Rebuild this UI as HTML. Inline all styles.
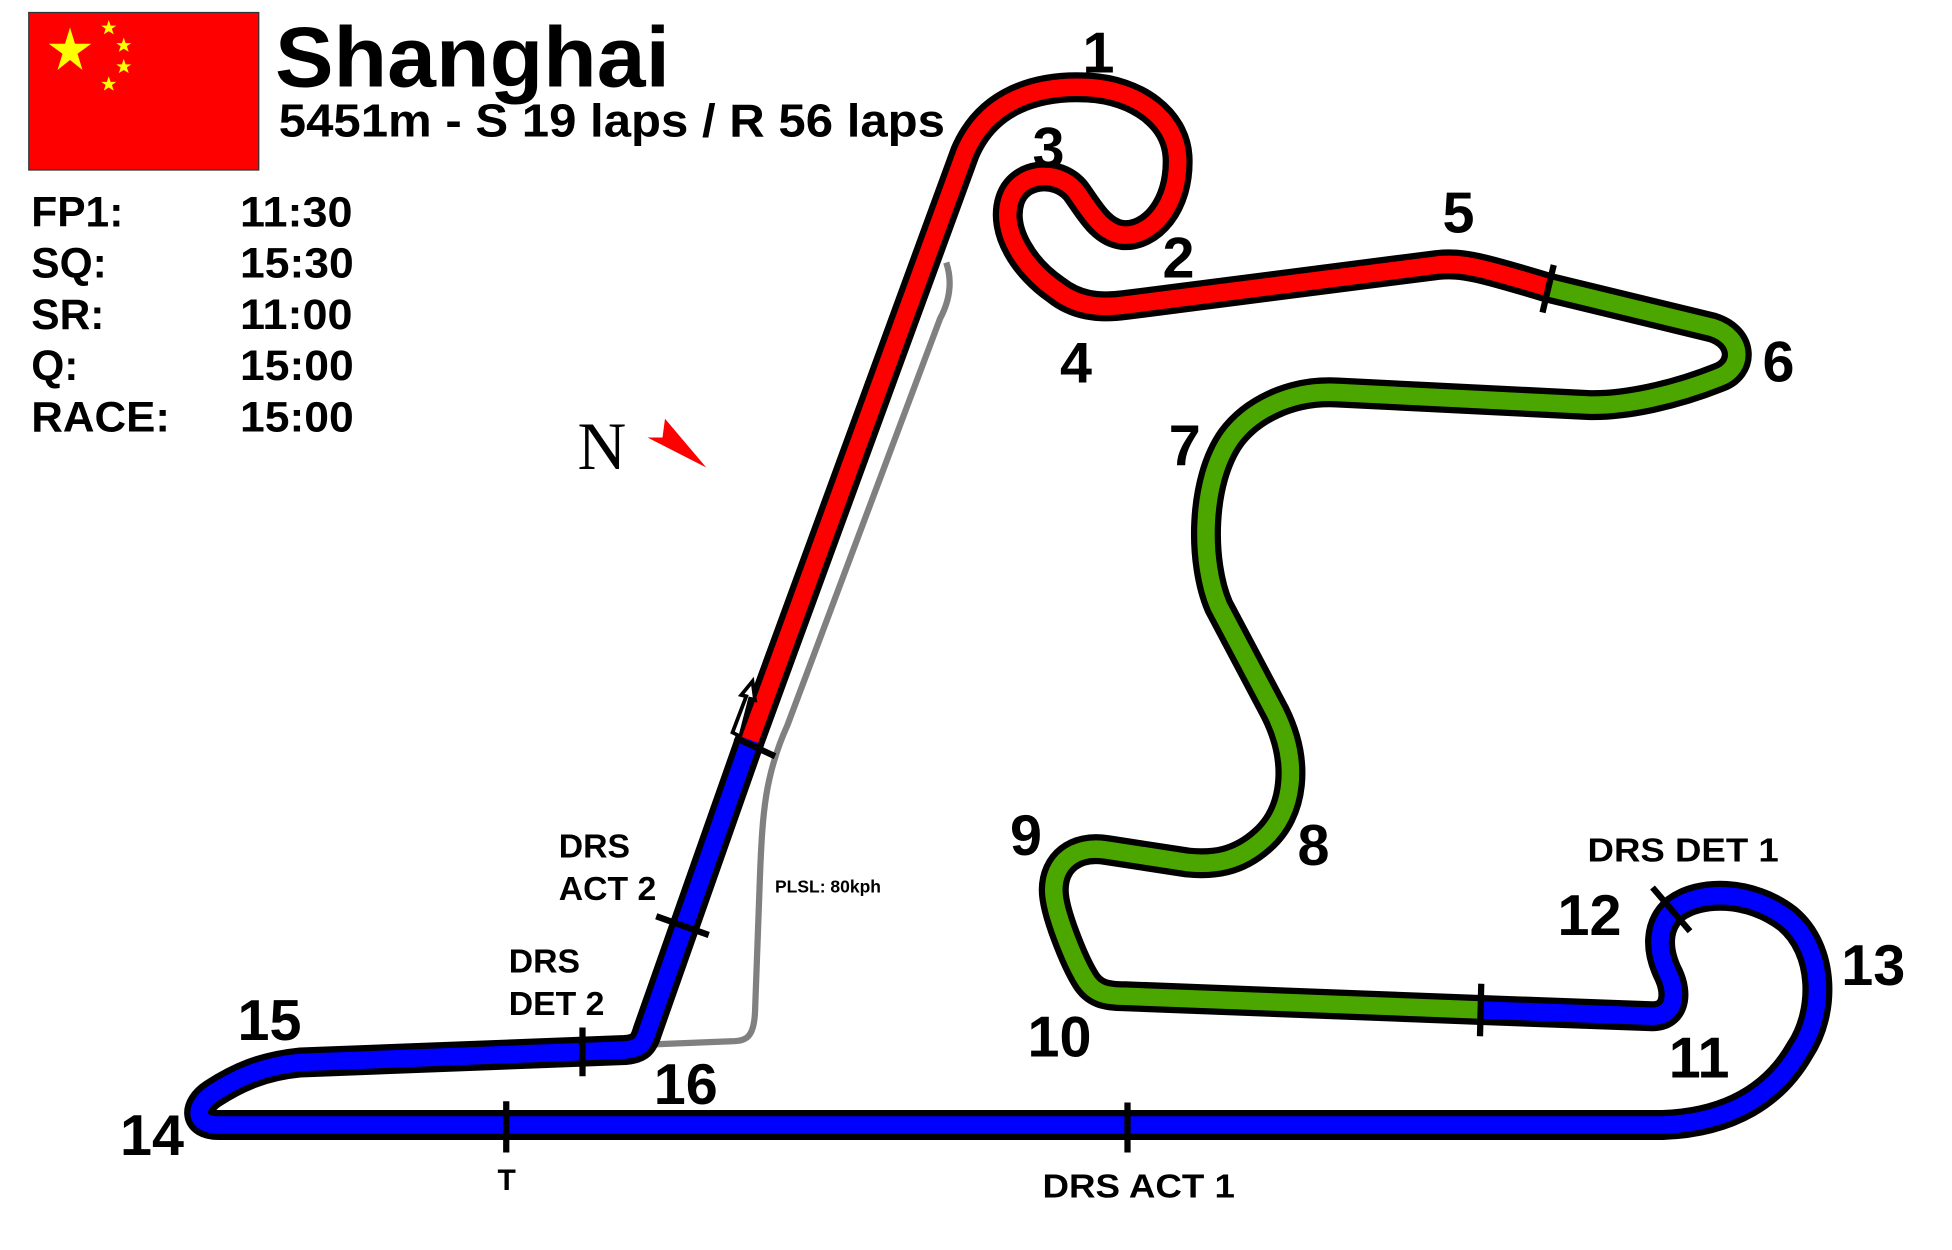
<!DOCTYPE html>
<html><head><meta charset="utf-8"><style>
html,body{margin:0;padding:0;background:#fff;}
svg{display:block;}
text{font-family:"Liberation Sans",sans-serif;font-weight:bold;fill:#000;}
</style></head><body>
<svg width="1952" height="1250" viewBox="0 0 1561.6 1000">
<g>
<rect x="23" y="10" width="184" height="126" fill="#ff0000" stroke="#333" stroke-width="1"/>
<polygon points="56,22 60,35 73,35 62,43 66,56 56,48 46,56 50,43 39,35 52,35" fill="#ffff00"/>
<g fill="#ffff00">
<polygon points="87,16 88.5,20.5 93,20.5 89.5,23 91,27.5 87,25 83,27.5 84.5,23 81,20.5 85.5,20.5"/>
<polygon points="99,30 100.5,34.5 105,34.5 101.5,37 103,41.5 99,39 95,41.5 96.5,37 93,34.5 97.5,34.5"/>
<polygon points="99,47 100.5,51.5 105,51.5 101.5,54 103,58.5 99,56 95,58.5 96.5,54 93,51.5 97.5,51.5"/>
<polygon points="87,61 88.5,65.5 93,65.5 89.5,68 91,72.5 87,70 83,72.5 84.5,68 81,65.5 85.5,65.5"/>
</g>
</g>
<text x="220" y="69" font-size="68" textLength="316" lengthAdjust="spacingAndGlyphs">Shanghai</text>
<text x="223" y="109" font-size="37" textLength="533" lengthAdjust="spacingAndGlyphs">5451m - S 19 laps / R 56 laps</text>
<g font-size="34">
<text x="25" y="181">FP1:</text><text x="192" y="181" textLength="90" lengthAdjust="spacingAndGlyphs">11:30</text>
<text x="25" y="222">SQ:</text><text x="192" y="222" textLength="91" lengthAdjust="spacingAndGlyphs">15:30</text>
<text x="25" y="263">SR:</text><text x="192" y="263" textLength="90" lengthAdjust="spacingAndGlyphs">11:00</text>
<text x="25" y="304">Q:</text><text x="192" y="304" textLength="91" lengthAdjust="spacingAndGlyphs">15:00</text>
<text x="25" y="345" textLength="111" lengthAdjust="spacingAndGlyphs">RACE:</text><text x="192" y="345" textLength="91" lengthAdjust="spacingAndGlyphs">15:00</text>
</g>
<g>
<text x="462" y="375" font-size="54" style="font-family:'Liberation Serif',serif;font-weight:normal">N</text>
<polygon points="532,335 565,374 518,350 530,350" fill="#ff0000"/>
</g>
<path d="M757,210 C762,225 760,240 752,255 L630,580 C612,620 610,650 608,700 L604,810 C603,830 597,833 585,833 L510,836" fill="none" stroke="#808080" stroke-width="5"/>
<text x="620" y="714" font-size="14">PLSL: 80kph</text>
<g fill="none" stroke-linejoin="round" stroke-linecap="round">
<path stroke="#000" stroke-width="24" d="M600,592 L772,122 C790,80 830,68 870,70 C910,72 940,95 942,125 C944,165 920,190 898,188 C880,186 870,165 860,152 C845,135 815,138 808,160 C800,185 820,215 845,232 C860,244 878,247 900,244 L1150,212 C1170,210 1185,214 1238,230 L1370,262 C1395,270 1395,295 1375,302 C1340,316 1300,325 1270,324 L1070,314 C1030,312 1000,330 985,350 C960,385 960,450 975,485 L1020,570 C1040,610 1035,650 1010,672 C990,690 970,692 950,690 L885,680 C860,676 843,690 843,712 C843,730 860,770 868,783 C875,795 885,797 900,797 L1185,808 L1322,813 C1340,813 1342,795 1335,780 C1325,760 1325,740 1340,727 C1360,712 1400,712 1430,735 C1460,760 1460,810 1440,840 C1420,875 1385,898 1330,900 L175,900 C155,900 155,885 170,875 C190,862 210,853 240,850 L500,840 C512,839 515,835 518,825 Z"/>
<path stroke="#ff0000" stroke-width="14" stroke-linecap="butt" d="M600,592 L772,122 C790,80 830,68 870,70 C910,72 940,95 942,125 C944,165 920,190 898,188 C880,186 870,165 860,152 C845,135 815,138 808,160 C800,185 820,215 845,232 C860,244 878,247 900,244 L1150,212 C1170,210 1185,214 1238,230"/>
<path stroke="#4ca600" stroke-width="14" stroke-linecap="butt" d="M1238,230 L1370,262 C1395,270 1395,295 1375,302 C1340,316 1300,325 1270,324 L1070,314 C1030,312 1000,330 985,350 C960,385 960,450 975,485 L1020,570 C1040,610 1035,650 1010,672 C990,690 970,692 950,690 L885,680 C860,676 843,690 843,712 C843,730 860,770 868,783 C875,795 885,797 900,797 L1185,808"/>
<path stroke="#0000ff" stroke-width="14" stroke-linecap="butt" d="M1185,808 L1322,813 C1340,813 1342,795 1335,780 C1325,760 1325,740 1340,727 C1360,712 1400,712 1430,735 C1460,760 1460,810 1440,840 C1420,875 1385,898 1330,900 L175,900 C155,900 155,885 170,875 C190,862 210,853 240,850 L500,840 C512,839 515,835 518,825 L600,592"/>
</g>
<g stroke="#000" stroke-width="5">
<line x1="1243" y1="212" x2="1234" y2="250"/>
<line x1="1185" y1="787" x2="1184" y2="829"/>
<line x1="588" y1="590" x2="620" y2="605"/>
<line x1="525" y1="733" x2="567" y2="748"/>
<line x1="466" y1="822" x2="466" y2="861"/>
<line x1="405" y1="881" x2="405" y2="922"/>
<line x1="902" y1="882" x2="902" y2="922"/>
<line x1="1322" y1="710" x2="1352" y2="745"/>
</g>
<path d="M590,588 L586,586 L597,557 L593,556 L602,545 L604,560 L600,559 L592,590 Z" fill="#fff" stroke="#000" stroke-width="3"/>
<g font-size="46">
<text x="866" y="58">1</text><text x="930" y="222">2</text><text x="826" y="134">3</text>
<text x="848" y="306">4</text><text x="1154" y="186">5</text><text x="1410" y="305">6</text>
<text x="935" y="372">7</text><text x="1038" y="692">8</text><text x="808" y="684">9</text>
<text x="822" y="845">10</text><text x="1335" y="862">11</text><text x="1246" y="748">12</text>
<text x="1473" y="788">13</text><text x="96" y="924">14</text><text x="190" y="832">15</text>
<text x="523" y="883">16</text>
</g>
<g font-size="27">
<text x="447" y="686">DRS</text><text x="447" y="720">ACT 2</text>
<text x="407" y="778">DRS</text><text x="407" y="812">DET 2</text>
<text x="1270" y="689" textLength="153" lengthAdjust="spacingAndGlyphs">DRS DET 1</text>
<text x="834" y="958" textLength="154" lengthAdjust="spacingAndGlyphs">DRS ACT 1</text>
<text x="398" y="952" font-size="24">T</text>
</g>
</svg>
</body></html>
